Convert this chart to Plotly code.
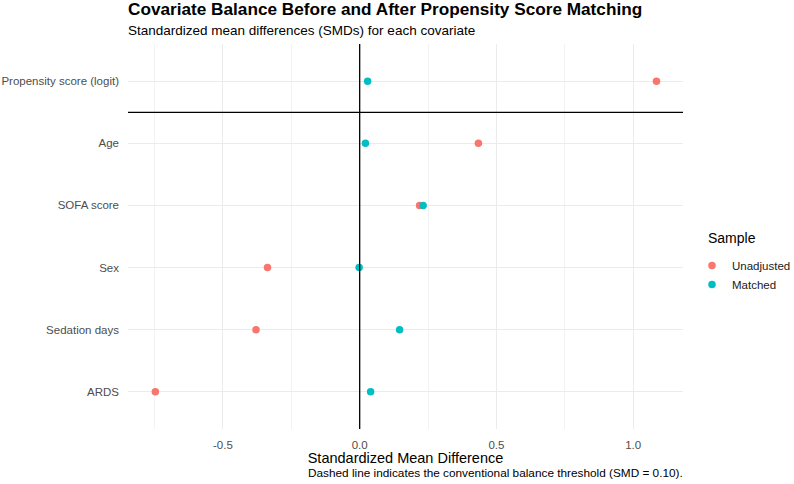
import plotly.graph_objects as go

covariates = ["ARDS", "Sedation days", "Sex", "SOFA score", "Age", "Propensity score (logit)"]
smd_unadjusted = [-0.747, -0.379, -0.337, 0.219, 0.434, 1.085]
smd_matched = [0.040, 0.146, -0.002, 0.232, 0.021, 0.029]
x_ticks = [-0.5, 0.0, 0.5, 1.0]
x_ticklabels = ["-0.5", "0.0", "0.5", "1.0"]

FONT = "Liberation Sans, Arial, Helvetica, sans-serif"

fig = go.Figure()
fig.add_trace(go.Scatter(x=smd_unadjusted, y=covariates, mode="markers", name="Unadjusted",
                         marker=dict(color="#F8766D", size=7.5)))
fig.add_trace(go.Scatter(x=smd_matched, y=covariates, mode="markers", name="Matched",
                         marker=dict(color="#00BFC4", size=7.5)))

# reference lines
fig.add_shape(type="line", xref="x", yref="paper", x0=0, x1=0, y0=0, y1=1,
              line=dict(color="black", width=1.3))
fig.add_shape(type="line", xref="paper", yref="y", x0=0, x1=1, y0=4.5, y1=4.5,
              line=dict(color="black", width=1.3))

fig.update_layout(
    width=794, height=484,
    margin=dict(l=128, r=111, t=44, b=55, autoexpand=False),
    paper_bgcolor="white", plot_bgcolor="white",
    font=dict(family=FONT, color="#4D4D4D", size=11.5),
    showlegend=True,
    legend=dict(x=1.0162, xanchor="left", y=0.40, yanchor="middle",
                font=dict(size=11.5, color="#1a1a1a"), tracegroupgap=0,
                bgcolor="rgba(0,0,0,0)"),
    xaxis=dict(range=[-0.847, 1.182], tickvals=x_ticks, ticktext=x_ticklabels,
               showgrid=True, gridcolor="#EBEBEB", gridwidth=1, zeroline=False,
               showline=False, ticks="", ticklabelstandoff=7,
               tickfont=dict(size=11.5, color="#4D4D4D"),
               minor=dict(tickvals=[-0.75, -0.25, 0.25, 0.75], showgrid=True,
                          gridcolor="#F2F2F2", gridwidth=0.7),
               title=dict(text="Standardized Mean Difference", standoff=2,
                          font=dict(size=14.5, color="black"))),
    yaxis=dict(range=[-0.6, 5.6], showgrid=True, gridcolor="#EBEBEB", gridwidth=1,
               zeroline=False, showline=False, ticks="", ticklabelstandoff=8,
               tickfont=dict(size=11.5, color="#4D4D4D"),
               categoryorder="array", categoryarray=covariates),
)

fig.add_annotation(text="Sample", xref="paper", yref="paper", x=1.041, y=0.496,
                   xanchor="left", yanchor="middle", showarrow=False,
                   font=dict(size=14, color="black", family=FONT))
fig.add_annotation(text="<b>Covariate Balance Before and After Propensity Score Matching</b>",
                   xref="paper", yref="paper", x=0, y=1, xanchor="left", yanchor="bottom",
                   yshift=23, xshift=-2, showarrow=False,
                   font=dict(size=17.2, color="black", family=FONT))
fig.add_annotation(text="Standardized mean differences (SMDs) for each covariate",
                   xref="paper", yref="paper", x=0, y=1, xanchor="left", yanchor="bottom",
                   yshift=4, xshift=-2, showarrow=False,
                   font=dict(size=13.5, color="black", family=FONT))
fig.add_annotation(text="Dashed line indicates the conventional balance threshold (SMD = 0.10).",
                   xref="paper", yref="paper", x=1, y=0, xanchor="right", yanchor="top",
                   yshift=-35, xshift=2, showarrow=False,
                   font=dict(size=11.8, color="black", family=FONT))

fig.write_html("out.html")
